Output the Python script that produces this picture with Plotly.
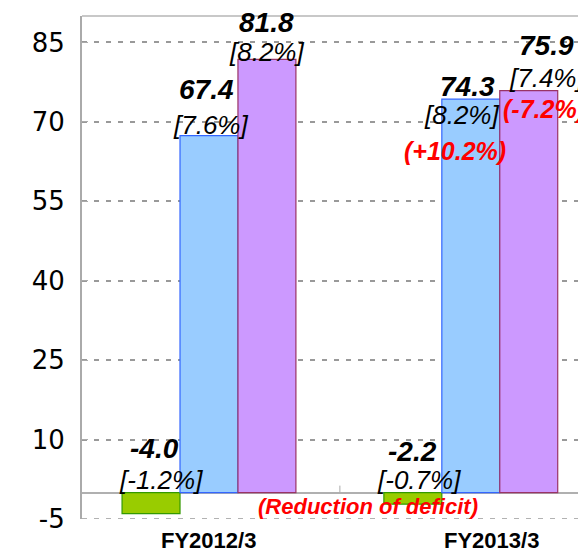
import plotly.graph_objects as go

categories = ["FY2012/3", "FY2013/3"]
series_names = ["Balance", "Exports", "Imports"]
balance = [-4.0, -2.2]
exports = [67.4, 74.3]
imports = [81.8, 75.9]
balance_share = ["[-1.2%]", "[-0.7%]"]
exports_share = ["[7.6%]", "[8.2%]"]
imports_share = ["[8.2%]", "[7.4%]"]
exports_change = [None, "(+10.2%)"]
imports_change = [None, "(-7.2%)"]
deficit_note = "(Reduction of deficit)"
ytick_vals = [-5, 10, 25, 40, 55, 70, 85]
ytick_text = ["-5", "10", "25", "40", "55", "70", "85"]

fills = ["#99CC00", "#99CCFF", "#CC99FF"]
borders = ["#339900", "#3366FF", "#993366"]

fig = go.Figure()
for name, vals, fc, bc in zip(series_names, [balance, exports, imports], fills, borders):
    fig.add_trace(go.Bar(x=categories, y=vals, name=name,
                         marker=dict(color=fc, line=dict(color=bc, width=1.2))))

FAM = "Liberation Sans, Arial"
VAL_FONT = dict(family=FAM, size=28, color="black")
BR_FONT = dict(family=FAM, size=26, color="black")
RED_FONT = dict(family=FAM, size=25, color="#FF0000")
BW = 58  # bar width px

ann = []
def add(text, cat, yv, dx, dy, font):
    ann.append(dict(text=text, x=cat, y=yv, xref="x", yref="y", xshift=dx, yshift=dy,
                    showarrow=False, font=font, xanchor="center", yanchor="middle"))

for i, c in enumerate(categories):
    add("<b><i>%.1f</i></b>" % balance[i], c, 0, -BW + [4, 0][i], [44, 41][i], VAL_FONT)
    add("<i>%s</i>" % balance_share[i], c, 0, -BW + [10, 6][i], 13, BR_FONT)

add("<b><i>%.1f</i></b>" % exports[0], categories[0], exports[0], -2, 46, VAL_FONT)
add("<i>%s</i>" % exports_share[0], categories[0], exports[0], 2, 11, BR_FONT)
add("<b><i>%.1f</i></b>" % exports[1], categories[1], exports[1], -3, 13, VAL_FONT)
add("<i>%s</i>" % exports_share[1], categories[1], exports[1], -9, -16, BR_FONT)
add("<b><i>%s</i></b>" % exports_change[1], categories[1], exports[1], -16, -52, RED_FONT)
add("<b><i>%.1f</i></b>" % imports[0], categories[0], imports[0], BW, 37, VAL_FONT)
add("<i>%s</i>" % imports_share[0], categories[0], imports[0], BW, 7, BR_FONT)
add("<b><i>%.1f</i></b>" % imports[1], categories[1], imports[1], BW + 18, 45, VAL_FONT)
add("<i>%s</i>" % imports_share[1], categories[1], imports[1], BW + 18, 13, BR_FONT)
add("<b><i>%s</i></b>" % imports_change[1], categories[1], imports[1], BW + 15, -18, RED_FONT)

ann.append(dict(text="<b><i>%s</i></b>" % deficit_note, x=0.5, y=0, xref="x", yref="y",
                xshift=28, yshift=-14, showarrow=False,
                font=dict(family=FAM, size=22, color="#FF0000")))

for c, dx in zip(categories, [0, 21]):
    ann.append(dict(text="<b>%s</b>" % c, x=c, y=0, xref="x", yref="paper", xshift=dx,
                    yshift=-36, yanchor="bottom", showarrow=False,
                    font=dict(family=FAM, size=22, color="black")))

# page body has an 8px margin: figure placed at (8, 8)
fig.update_layout(
    width=578, height=545,
    margin=dict(l=74, r=0, t=8, b=34, autoexpand=False),
    paper_bgcolor="white", plot_bgcolor="white",
    barmode="group", bargap=0.336, bargroupgap=0,
    showlegend=False,
    annotations=ann,
    xaxis=dict(type="category", range=[-0.485, 1.44], showticklabels=False,
               showgrid=False, zeroline=False, showline=False, ticks="",
               automargin=False),
    yaxis=dict(range=[-5, 90], tickvals=ytick_vals, ticktext=ytick_text, showgrid=True,
               gridcolor="#999999", griddash="5px,7px", gridwidth=1.5,
               zeroline=True, zerolinecolor="#B0B0B0", zerolinewidth=1.5,
               showline=True, linecolor="#AAAAAA", linewidth=2,
               ticks="inside", ticklen=6, tickcolor="#AAAAAA",
               tickfont=dict(family="DejaVu Sans", size=26, color="black"),
               ticklabelstandoff=10, automargin=False),
)
fig.add_shape(type="line", xref="paper", yref="paper", x0=0, x1=1, y0=1, y1=1,
              line=dict(color="#C8C8C8", width=2))
fig.add_shape(type="line", xref="paper", yref="y", x0=0, x1=1, y0=-5, y1=-5,
              line=dict(color="#999999", width=1.5, dash="5px,7px"))
fig.add_shape(type="line", xref="x", yref="y", x0=0.5, x1=0.5, y0=0, y1=1.3,
              line=dict(color="#AAAAAA", width=1))

fig.write_html("out.html")
